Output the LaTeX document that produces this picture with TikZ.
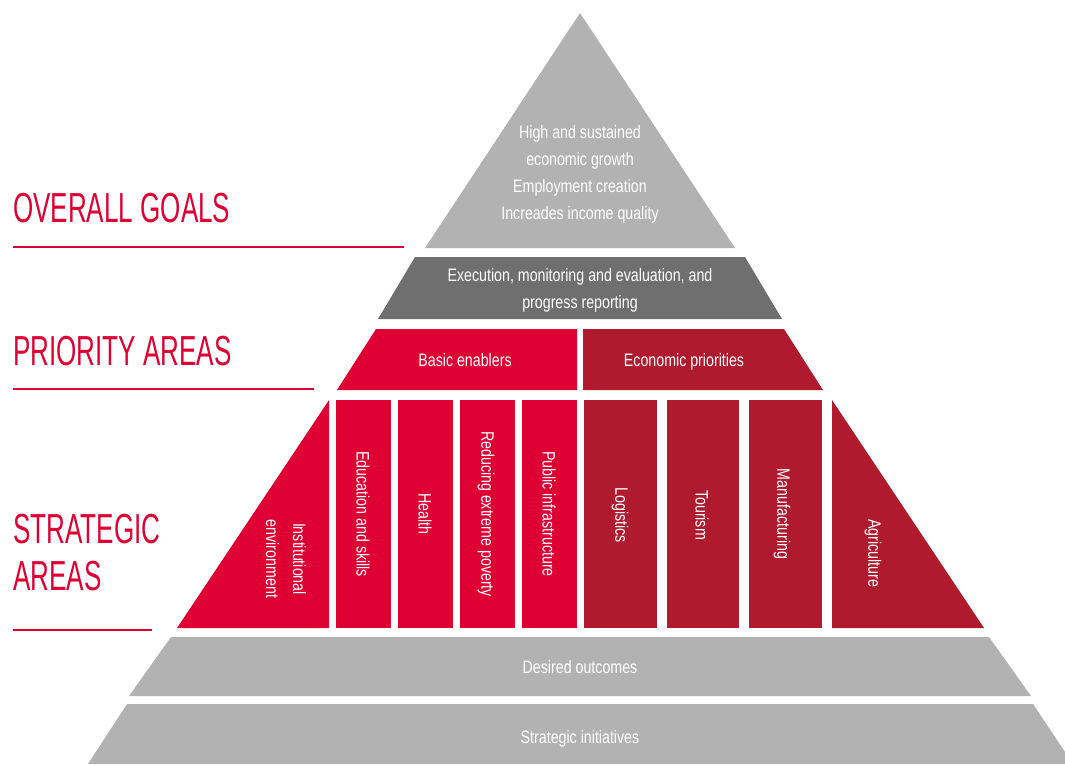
\documentclass[tikz,border=0pt]{standalone}
\usepackage{fontspec}
\setmainfont[FakeStretch=0.79]{Liberation Sans}
\newfontfamily\titlefont[FakeStretch=0.62]{Liberation Sans}
\definecolor{lgray}{HTML}{B2B2B2}
\definecolor{dgray}{HTML}{706F6F}
\definecolor{bred}{HTML}{DF0033}
\definecolor{dred}{HTML}{B01A2E}
\tikzset{
  body/.style={text=white, font=\fontsize{18}{27}\selectfont, align=center, inner sep=0pt},
  vbody/.style={body, rotate=-90},
  title/.style={text=bred, font=\titlefont\fontsize{42}{47}\selectfont, anchor=base west, inner sep=0pt},
  rule/.style={draw=bred, line width=2.2pt}
}
\begin{document}
\begin{tikzpicture}[x=1pt,y=-1pt]
\path[use as bounding box, clip] (0,0) rectangle (1065,764);
% pyramid shapes
\fill[lgray] (580,13) -- (735,248) -- (425,248) -- cycle;
\fill[dgray] (415,257) -- (745,257) -- (782,319) -- (378,319) -- cycle;
\fill[bred] (376,329) -- (577,329) -- (577,390) -- (337,390) -- cycle;
\fill[dred] (583,329) -- (784,329) -- (823,390) -- (583,390) -- cycle;
\fill[bred] (329,400) -- (329,628) -- (177,628) -- cycle;
\fill[bred] (336,400) rectangle (391,628);
\fill[bred] (398,400) rectangle (453,628);
\fill[bred] (460,400) rectangle (515,628);
\fill[bred] (522,400) rectangle (577,628);
\fill[dred] (584,400) rectangle (657,628);
\fill[dred] (667,400) rectangle (739,628);
\fill[dred] (749,400) rectangle (822,628);
\fill[dred] (832,400) -- (984,628) -- (832,628) -- cycle;
\fill[lgray] (171,637) -- (989,637) -- (1031,696) -- (129,696) -- cycle;
\fill[lgray] (127,704) -- (1033,704) -- (1073,764) -- (88,764) -- cycle;
% texts
\node[body] (goals) at (580,174) {High and sustained\\economic growth\\Employment creation\\Increades income quality};
\node[body] (exec) at (580,290) {Execution, monitoring and evaluation, and\\progress reporting};
\node[body, anchor=base] (basic) at (465,366) {Basic enablers};
\node[body, anchor=base] (econ) at (684,366) {Economic priorities};
\node[vbody] (inst) at (286,559) {Institutional\\environment};
\node[vbody] (edu) at (363,514) {Education and skills};
\node[vbody] (health) at (425,514) {Health};
\node[vbody] (pov) at (486,514) {Reducing extreme poverty};
\node[vbody] (pub) at (549,514) {Public infrastructure};
\node[vbody] (log) at (620,515) {Logistics};
\node[vbody] (tour) at (702,515) {Tourism};
\node[vbody] (manu) at (782,514) {Manufacturing};
\node[vbody] (agri) at (873,553) {Agriculture};
\node[body, anchor=base] (outc) at (580,673) {Desired outcomes};
\node[body, anchor=base] (init) at (580,743) {Strategic initiatives};
% left titles
\node[title] (t1) at (13,222) {OVERALL GOALS};
\node[title] (t2) at (13,365) {PRIORITY AREAS};
\node[title] (t3) at (13,543) {STRATEGIC};
\node[title] (t4) at (13,590) {AREAS};
\coordinate (r1a) at (13,247); \coordinate (r1b) at (404,247);
\coordinate (r2a) at (13,389); \coordinate (r2b) at (314,389);
\coordinate (r3a) at (13,630); \coordinate (r3b) at (152,630);
\draw[rule] (r1a) -- (r1b);
\draw[rule] (r2a) -- (r2b);
\draw[rule] (r3a) -- (r3b);
\end{tikzpicture}
\end{document}
